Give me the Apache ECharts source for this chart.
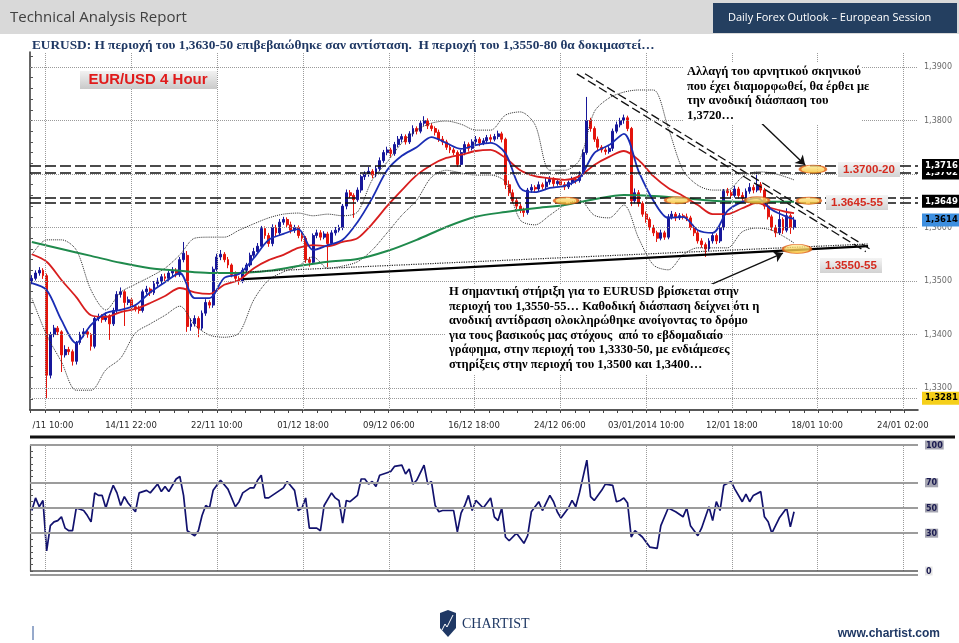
<!DOCTYPE html>
<html><head><meta charset="utf-8">
<script src="https://cdn.jsdelivr.net/npm/echarts@6/dist/echarts.min.js"></script>
<style>html,body{margin:0;padding:0;background:#fff}#c{width:959px;height:643px}</style>
</head><body><div id="c"></div>
<script>
// EUR/USD 4h candles, prices in pips above 1.0000 (3614 = 1.3614)
const opens = [3500,3505,3515,3520,3510,3324,3400,3412,3405,3362,
3372,3368,3350,3385,3400,3405,3400,3378,3430,3433,
3428,3435,3420,3445,3475,3480,3460,3465,3452,3448,
3445,3480,3485,3478,3495,3500,3508,3505,3515,3520,
3512,3540,3548,3415,3420,3430,3412,3440,3460,3455,
3522,3545,3550,3540,3530,3512,3505,3500,3520,3530,
3548,3555,3565,3598,3585,3570,3600,3590,3610,3615,
3605,3595,3600,3585,3580,3540,3535,3585,3590,3582,
3588,3570,3590,3595,3600,3640,3665,3660,3652,3670,
3695,3700,3705,3698,3710,3725,3740,3745,3738,3755,
3765,3770,3760,3775,3785,3780,3795,3800,3790,3785,
3778,3765,3760,3750,3745,3740,3718,3740,3755,3748,
3760,3765,3758,3762,3768,3765,3770,3775,3765,3680,
3665,3650,3640,3632,3628,3670,3675,3672,3680,3676,
3685,3690,3682,3686,3680,3676,3684,3690,3688,3700,
3740,3800,3785,3765,3750,3745,3742,3748,3780,3792,
3800,3805,3785,3650,3665,3645,3625,3615,3600,3590,
3580,3590,3582,3620,3625,3618,3622,3620,3618,3600,
3590,3575,3568,3560,3575,3585,3575,3600,3668,3665,
3660,3672,3660,3655,3668,3675,3670,3680,3670,3640,
3620,3600,3590,3615,3595,3622,3600];
const highs = [3511,3520,3526,3524,3514,3405,3418,3416,3408,3380,
3377,3372,3388,3405,3412,3409,3403,3434,3439,3438,
3441,3438,3450,3481,3488,3483,3471,3469,3457,3454,
3484,3491,3488,3500,3506,3513,3514,3520,3526,3524,
3545,3573,3556,3430,3436,3434,3445,3466,3464,3527,
3551,3558,3554,3545,3533,3518,3509,3525,3534,3553,
3562,3571,3603,3602,3590,3606,3605,3616,3620,3619,
3611,3605,3604,3590,3584,3545,3589,3596,3595,3593,
3592,3595,3601,3605,3644,3671,3670,3664,3675,3701,
3705,3713,3709,3715,3731,3745,3751,3749,3760,3771,
3775,3774,3780,3791,3789,3800,3808,3804,3795,3789,
3783,3771,3764,3755,3749,3744,3745,3761,3759,3765,
3771,3769,3767,3773,3774,3775,3781,3779,3768,3688,
3671,3655,3644,3637,3674,3681,3679,3686,3684,3693,
3696,3694,3691,3690,3685,3688,3695,3694,3705,3746,
3844,3805,3789,3770,3754,3750,3752,3785,3798,3805,
3811,3809,3788,3673,3670,3649,3630,3619,3605,3594,
3596,3594,3625,3631,3629,3627,3626,3626,3622,3605,
3594,3580,3572,3580,3591,3589,3605,3672,3674,3670,
3678,3676,3666,3673,3683,3680,3702,3685,3674,3645,
3624,3605,3633,3619,3636,3626,3620];
const lows = [3494,3501,3510,3504,3281,3318,3395,3399,3330,3357,
3362,3342,3344,3381,3395,3394,3370,3374,3425,3422,
3424,3390,3416,3440,3469,3416,3455,3446,3443,3439,
3441,3475,3472,3474,3490,3494,3500,3501,3509,3507,
3508,3535,3405,3407,3415,3395,3408,3435,3449,3450,
3518,3539,3535,3524,3507,3499,3493,3496,3515,3526,
3543,3551,3560,3579,3564,3565,3584,3586,3605,3601,
3589,3590,3580,3574,3534,3527,3531,3580,3576,3578,
3526,3566,3585,3591,3595,3634,3655,3618,3648,3665,
3689,3695,3692,3694,3705,3721,3735,3732,3734,3750,
3759,3755,3756,3770,3774,3776,3790,3784,3780,3772,
3760,3754,3745,3739,3735,3713,3714,3735,3742,3744,
3755,3752,3754,3757,3759,3761,3765,3759,3672,3659,
3645,3634,3627,3620,3624,3665,3666,3668,3671,3670,
3680,3676,3678,3675,3670,3672,3679,3682,3684,3695,
3736,3779,3760,3744,3740,3736,3738,3743,3776,3787,
3794,3780,3640,3645,3639,3620,3609,3595,3584,3573,
3576,3577,3578,3615,3612,3614,3615,3612,3595,3584,
3570,3562,3545,3556,3570,3569,3571,3595,3659,3655,
3656,3654,3650,3651,3663,3664,3666,3665,3634,3615,
3594,3582,3586,3588,3591,3588,3596];
const closes = [3505,3515,3520,3510,3324,3400,3412,3405,3362,3372,
3368,3350,3385,3400,3405,3400,3378,3430,3433,3428,
3435,3420,3445,3475,3480,3460,3465,3452,3448,3445,
3480,3485,3478,3495,3500,3508,3505,3515,3520,3512,
3540,3552,3415,3420,3430,3412,3440,3460,3455,3522,
3545,3550,3540,3530,3512,3505,3500,3520,3530,3548,
3555,3565,3598,3585,3570,3600,3590,3610,3615,3605,
3595,3600,3585,3580,3540,3535,3585,3590,3582,3588,
3570,3590,3595,3600,3640,3665,3660,3652,3670,3695,
3700,3705,3698,3710,3725,3740,3745,3738,3755,3765,
3770,3760,3775,3785,3780,3795,3800,3790,3785,3778,
3765,3760,3750,3745,3740,3718,3740,3755,3748,3760,
3765,3758,3762,3768,3765,3770,3775,3765,3680,3665,
3650,3640,3632,3628,3670,3675,3672,3680,3676,3685,
3690,3682,3686,3680,3676,3684,3690,3688,3700,3740,
3800,3785,3765,3750,3745,3742,3748,3780,3792,3800,
3805,3785,3650,3665,3645,3625,3615,3600,3590,3580,
3590,3582,3620,3625,3618,3622,3620,3618,3600,3590,
3575,3568,3560,3575,3585,3575,3600,3668,3665,3660,
3672,3660,3655,3668,3675,3670,3680,3670,3640,3620,
3600,3590,3615,3595,3622,3600,3614];

// indicator readings (bar index -> pips)
const maIdx = [0,4,8,12,16,20,24,28,32,36,40,44,48,52,56,60,64,68,72,76,80,84,88,92,96,100,104,108,112,116,120,124,128,132,136,140,144,148,152,156,160,164,168,172,176,180,184,188,192,196,200,204,206];
const maFast = [3496,3483,3427,3384,3418,3440,3446,3455,3479,3498,3515,3468,3468,3506,3513,3543,3577,3588,3597,3558,3567,3577,3610,3655,3707,3734,3750,3769,3758,3747,3754,3758,3739,3674,3666,3674,3678,3692,3739,3754,3775,3705,3650,3618,3620,3595,3590,3631,3648,3655,3633,3620,3616];
const maMid = [3550,3536,3502,3470,3436,3433,3442,3448,3459,3472,3487,3479,3476,3493,3502,3524,3539,3549,3562,3567,3565,3573,3580,3607,3640,3670,3698,3717,3730,3736,3743,3745,3730,3707,3696,3692,3689,3696,3717,3732,3743,3726,3696,3674,3659,3642,3625,3625,3636,3646,3636,3629,3627];
const bbUpper = [3549,3577,3577,3558,3483,3446,3479,3494,3508,3524,3549,3580,3582,3582,3595,3607,3618,3625,3627,3622,3625,3622,3629,3689,3722,3758,3782,3795,3799,3793,3782,3782,3810,3816,3792,3707,3707,3726,3816,3842,3853,3857,3857,3786,3707,3679,3670,3670,3694,3704,3702,3694,3689];
const bbLower = [3468,3399,3349,3296,3296,3334,3356,3403,3420,3436,3453,3418,3399,3395,3403,3465,3502,3517,3528,3545,3524,3528,3536,3558,3590,3623,3651,3694,3707,3702,3698,3698,3685,3614,3605,3623,3642,3651,3623,3618,3642,3580,3530,3521,3549,3562,3562,3562,3592,3599,3595,3580,3571];
const maSlowIdx = [0,8,16,24,32,40,48,56,64,72,80,88,96,104,112,120,128,136,144,152,160,168,176,184,192,200,206];
const maSlow = [3573,3560,3547,3534,3524,3519,3515,3515,3519,3528,3536,3541,3556,3577,3601,3620,3629,3636,3642,3653,3661,3659,3655,3650,3648,3648,3648];

// RSI readings [bar index, value]
const rsi = [[0,48],[1,58],[2,51],[3,56],[4,16],[5,36],[6,39],[7,40],[8,43],[9,34],[10,32],[11,32],[12,50],[14,48],[15,44],[16,39],[17,62],[18,60],[19,60],[20,50],[21,60],[22,68],[23,62],[24,52],[25,59],[26,54],[28,47],[29,62],[31,64],[32,62],[34,69],[35,63],[36,67],[37,63],[39,73],[40,75],[41,60],[42,32],[44,28],[45,32],[46,44],[47,52],[48,50],[49,64],[51,72],[53,65],[55,51],[56,55],[57,62],[59,66],[60,66],[61,72],[62,76],[63,58],[64,58],[67,64],[68,66],[69,71],[71,64],[72,48],[73,50],[74,58],[75,34],[77,34],[78,32],[79,52],[81,62],[82,58],[83,56],[84,38],[85,56],[86,55],[88,60],[89,73],[90,73],[91,69],[92,71],[93,67],[94,76],[95,77],[97,79],[98,83],[100,84],[101,77],[102,81],[103,69],[104,72],[106,84],[107,69],[108,71],[109,52],[110,47],[111,48],[114,48],[115,31],[116,46],[117,52],[118,60],[119,48],[120,56],[122,50],[124,58],[125,43],[126,40],[127,50],[128,27],[129,24],[131,30],[132,26],[133,22],[134,28],[135,47],[137,55],[138,48],[140,60],[141,55],[142,47],[143,42],[145,50],[146,56],[147,51],[148,62],[150,88],[151,59],[152,56],[154,64],[155,69],[157,68],[158,55],[159,56],[160,58],[161,54],[162,27],[163,32],[165,27],[167,19],[169,18],[170,36],[172,50],[174,47],[176,43],[177,50],[178,36],[180,28],[181,34],[183,51],[184,40],[185,55],[186,48],[187,68],[189,71],[190,65],[192,55],[193,61],[194,55],[195,60],[197,63],[198,43],[199,39],[200,30],[202,42],[204,50],[205,35],[206,47]];

// axis ticks
const timeTickPos = [4.05,27.3,50.5,73.8,97.0,120.0,143.2,166.5,189.7,212.7,235.9];
const timeTickLabels = ['/11 10:00','14/11 22:00','22/11 10:00','01/12 18:00','09/12 06:00','16/12 18:00','24/12 06:00','03/01/2014 10:00','12/01 18:00','18/01 10:00','24/01 02:00'];
const priceTicks = [1.33,1.34,1.35,1.36,1.37,1.38,1.39];
const rsiTicks = [0,30,50,70,100];

// chart annotations (bar index, price)
const levelLines = [1.3716,1.3702,1.3655,1.3646];
const priceTags = [[1.3702,'#000','#fff'],[1.3716,'#000','#fff'],[1.3649,'#000','#fff'],[1.3614,'#3d8fe0','#000'],[1.3281,'#f5cf1a','#000']];
const supportLine = [[57.6,1.35037],[226.5,1.35654]];
const dottedLine = [[57.6,1.35168],[226.5,1.35692]];
const downLineA = [[150.0,1.38873],[227.6,1.35574]];
const downLineB = [[147.8,1.38871],[225.9,1.35550]];
const arrowTop = [[195.4,1.38103],[209.5,1.37168]];
const arrowBottom = [[180.6,1.34832],[203.5,1.35523]];
const ellipses = [[144.9,1.3650,24,7],[174.9,1.3651,24,7],[196.5,1.3651,24,7],[210.5,1.3650,24,7],[211.6,1.3709,26,8],[207.3,1.3560,28,9]];

const N = 240;
const P = v => 1 + v / 10000;
const slots = Array.from({length: N}, (_, i) => String(i));
const candleData = opens.map((o, i) => [P(o), P(closes[i]), P(lows[i]), P(highs[i])]);
const pairs = (idx, vals) => idx.map((k, j) => [k, P(vals[j])]);
const minorX = []; for (let v = 4.05 - 3.87; v <= N; v += 3.87) minorX.push(v);
const minorY = []; for (let v = 1.326; v <= 1.3925; v += 0.002) minorY.push(+v.toFixed(4));
const minorR = []; for (let v = 0; v <= 100; v += 5) minorR.push(v);
const fmtP = v => v.toFixed(4).replace('.', ',');

const SERIF = '"Liberation Serif", "DejaVu Serif", serif';
const SANS = '"Liberation Sans", Arial, sans-serif';

function lineSeries(name, data, color, width, type, z) {
  return {name, type: 'line', xAxisIndex: 0, yAxisIndex: 0, data, symbol: 'none', smooth: 0.3,
    silent: true, z, lineStyle: {color, width, type}};
}
function mlSeries(xi, yi, z, ml) {
  return {type: 'scatter', xAxisIndex: xi, yAxisIndex: yi, data: [], z, silent: true,
    markLine: Object.assign({silent: true, precision: 6, symbol: ['none', 'none'], animation: false, label: {show: false}}, ml)};
}
const seg = pts => [{coord: pts[0]}, {coord: pts[1]}];

const grad = (a, b) => new echarts.graphic.LinearGradient(0, 0, 0, 1, [{offset: 0, color: a}, {offset: 1, color: b}]);
function txt(x, y, text, font, fill, align) {
  return {type: 'text', x, y, z: 102, silent: true, style: {text, font, fill, textAlign: align || 'left', align: align || 'left', textVerticalAlign: 'middle', verticalAlign: 'middle'}};
}
function rect(x, y, w, h, fill, z) {
  return {type: 'rect', z: z || 101, silent: true, shape: {x, y, width: w, height: h}, style: {fill}};
}

const topNote = ['Αλλαγή του αρνητικού σκηνικού', 'που έχει διαμορφωθεί, θα έρθει με', 'την ανοδική διάσπαση του', '1,3720…'];
const bottomNote = ['Η σημαντική στήριξη για το EURUSD βρίσκεται στην',
  'περιοχή του 1,3550-55… Καθοδική διάσπαση δείχνει ότι η',
  'ανοδική αντίδραση ολοκληρώθηκε ανοίγοντας το δρόμο',
  'για τους βασικούς μας στόχους  από το εβδομαδιαίο',
  'γράφημα, στην περιοχή του 1,3330-50, με ενδιάμεσες',
  'στηρίξεις στην περιοχή του 1,3500 και 1,3400…'];

const graphic = [
  rect(0, 0, 959, 34, '#d9d9d9', 100),
  txt(10, 18, 'Technical Analysis Report', '15px "Open Sans", sans-serif', '#404040'),
  rect(713, 3, 244, 30, '#243f60'),
  txt(728, 18, 'Daily Forex Outlook – European Session', '11px "Open Sans", sans-serif', '#ffffff'),
  txt(32, 46, 'EURUSD: Η περιοχή του 1,3630-50 επιβεβαιώθηκε σαν αντίσταση.  Η περιοχή του 1,3550-80 θα δοκιμαστεί…', 'bold 13.3px ' + SERIF, '#1f3864'),
  // EUR/USD label
  rect(80, 71, 137, 18, grad('#f2f2f2', '#c9c9c9')),
  txt(148, 80, 'EUR/USD 4 Hour', 'bold 15px ' + SANS, '#e01b1b', 'center'),
  // note backgrounds
  rect(683, 62, 178, 62, '#ffffff'),
  rect(445, 284, 268, 90, '#ffffff'),
  // level labels
  rect(838, 162, 62, 15, grad('#f4f4f4', '#d2d2d2')),
  txt(869, 170, '1.3700-20', 'bold 11.5px ' + SANS, '#d42a1e', 'center'),
  rect(826, 195, 62, 15, grad('#f4f4f4', '#d2d2d2')),
  txt(857, 203, '1.3645-55', 'bold 11.5px ' + SANS, '#d42a1e', 'center'),
  rect(820, 258, 62, 15, grad('#f4f4f4', '#d2d2d2')),
  txt(851, 266, '1.3550-55', 'bold 11.5px ' + SANS, '#d42a1e', 'center'),
  // separators
  {type: 'line', z: 101, silent: true, shape: {x1: 30, y1: 437, x2: 955, y2: 437}, style: {stroke: '#111', lineWidth: 3}},
  {type: 'line', z: 101, silent: true, shape: {x1: 30, y1: 575, x2: 918, y2: 575}, style: {stroke: '#777', lineWidth: 1.5}},
  // footer
  {type: 'line', z: 101, silent: true, shape: {x1: 33, y1: 626, x2: 33, y2: 640}, style: {stroke: '#2f5597', lineWidth: 1}},
  {type: 'polygon', z: 101, silent: true, shape: {points: [[440, 613], [448, 610], [456, 613], [456, 628], [448, 637], [440, 628]]}, style: {fill: '#1f3864'}},
  {type: 'polyline', z: 102, silent: true, shape: {points: [[442, 630], [445, 624], [447, 627], [453, 615]]}, style: {stroke: '#fff', lineWidth: 1, fill: null}},
  txt(462, 624, 'CHARTIST', '14px ' + SERIF, '#1f3864'),
  txt(940, 634, 'www.chartist.com', 'bold 12px "Liberation Sans Narrow", ' + SANS, '#1f3864', 'right')
];
topNote.forEach((t, k) => graphic.push(txt(687, 72 + k * 14.5, t, 'bold 12.5px ' + SERIF, '#000')));
bottomNote.forEach((t, k) => graphic.push(txt(449, 292 + k * 14.5, t, 'bold 12.5px ' + SERIF, '#000')));

const tagLabel = (text, bg, fg) => ({show: true, position: 'end', distance: 4, formatter: text, backgroundColor: bg, color: fg,
  padding: [2, 3, 2, 3], fontSize: 8.5, fontWeight: 'bold', fontFamily: '"DejaVu Sans", sans-serif'});

const option = {
  animation: false,
  backgroundColor: '#ffffff',
  grid: [
    {left: 30, right: 41, top: 52, height: 358},
    {left: 30, right: 41, top: 445, height: 126}
  ],
  xAxis: [
    {type: 'category', gridIndex: 0, data: slots, boundaryGap: true, show: false},
    {type: 'value', gridIndex: 0, min: 0, max: N, position: 'bottom',
      axisLine: {show: true, onZero: false, lineStyle: {color: '#222', width: 1.5}},
      axisTick: {show: true, customValues: minorX, length: 3, lineStyle: {color: '#444'}},
      axisLabel: {customValues: timeTickPos, margin: 11, fontSize: 8.5, color: '#2a2a2a', fontFamily: '"DejaVu Sans", sans-serif',
        formatter: v => { const k = timeTickPos.findIndex(t => Math.abs(t - v) < 0.01); return k === 0 ? '{f|' + timeTickLabels[0] + '}' : (k >= 0 ? timeTickLabels[k] : ''); },
        rich: {f: {fontSize: 8.5, color: '#2a2a2a', fontFamily: '"DejaVu Sans", sans-serif', padding: [0, 0, 0, 16]}}},
      splitLine: {show: false}},
    {type: 'category', gridIndex: 1, data: slots, boundaryGap: true, show: false},
    {type: 'value', gridIndex: 1, min: 0, max: N, show: false}
  ],
  yAxis: [
    {type: 'value', gridIndex: 0, min: 1.3259, max: 1.3928, position: 'right', scale: true,
      axisLine: {show: true, lineStyle: {color: '#333', width: 1.5}},
      axisTick: {show: true, customValues: minorY, length: 3, lineStyle: {color: '#555'}},
      axisLabel: {customValues: priceTicks, formatter: fmtP, fontSize: 8, color: '#6a6a6a', margin: 6, fontFamily: '"DejaVu Sans", sans-serif'},
      splitLine: {show: false}},
    {type: 'value', gridIndex: 1, min: 0, max: 100, position: 'right',
      axisLine: {show: true, lineStyle: {color: '#444', width: 1.2}},
      axisTick: {show: true, customValues: minorR, length: 3, lineStyle: {color: '#555'}},
      axisLabel: {customValues: rsiTicks, margin: 7, fontSize: 8, fontWeight: 'bold', fontFamily: '"DejaVu Sans", sans-serif',
        formatter: v => v === 0 ? '{z|0}' : '{b|' + v + '}',
        rich: {b: {backgroundColor: '#a4a4b0', color: '#1a1a50', fontSize: 8, fontWeight: 'bold', padding: [1, 1, 0, 1]},
               z: {backgroundColor: '#e4e4e4', color: '#1a1a50', fontSize: 8, fontWeight: 'bold', padding: [1, 1, 0, 1]}}},
      splitLine: {show: false}}
  ],
  graphic,
  series: [
    // gridlines
    mlSeries(1, 0, 1, {lineStyle: {type: 'dotted', color: '#9a9a9a', width: 1},
      data: timeTickPos.map(v => ({xAxis: v})).concat(priceTicks.concat([1.3281]).map(v => ({yAxis: v})))}),
    {type: 'candlestick', xAxisIndex: 0, yAxisIndex: 0, data: candleData, barWidth: 2.4, z: 2, silent: true,
      itemStyle: {color: '#17179a', color0: '#e3140c', borderColor: '#17179a', borderColor0: '#e3140c', borderWidth: 1}},
    lineSeries('bbU', pairs(maIdx, bbUpper), '#2a2a2a', 1, 'dotted', 3),
    lineSeries('bbL', pairs(maIdx, bbLower), '#2a2a2a', 1, 'dotted', 3),
    lineSeries('maSlow', pairs(maSlowIdx, maSlow), '#1f8a4c', 2, 'solid', 3),
    lineSeries('maMid', pairs(maIdx, maMid), '#d81e1e', 1.8, 'solid', 3),
    lineSeries('maFast', pairs(maIdx, maFast), '#1a2db4', 1.8, 'solid', 4),
    // dashed levels
    mlSeries(1, 0, 5, {lineStyle: {type: [11, 4], color: '#111', width: 1.6}, data: levelLines.map(v => ({yAxis: v}))}),
    // price tags
    mlSeries(1, 0, 6, {lineStyle: {color: 'rgba(0,0,0,0)', width: 1}, data: priceTags.map(t => ({yAxis: t[0], label: tagLabel(fmtP(t[0]), t[1], t[2])}))}),
    // trend lines
    mlSeries(1, 0, 5, {lineStyle: {type: 'solid', color: '#000', width: 2.2}, data: [seg(supportLine)]}),
    mlSeries(1, 0, 5, {lineStyle: {type: 'dotted', color: '#222', width: 1.2}, data: [seg(dottedLine)]}),
    mlSeries(1, 0, 5, {lineStyle: {type: [9, 4], color: '#111', width: 1.3}, data: [seg(downLineA), seg(downLineB)]}),
    mlSeries(1, 0, 7, {symbol: ['none', 'arrow'], symbolSize: 9, lineStyle: {type: 'solid', color: '#111', width: 1.4}, data: [seg(arrowTop), seg(arrowBottom)]}),
    // ellipses
    {type: 'scatter', xAxisIndex: 1, yAxisIndex: 0, z: 8, silent: true,
      data: ellipses.map(e => ({value: [e[0], e[1]], symbolSize: [e[2], e[3]]})),
      symbol: 'path://M0,10 A20,10 0 1,1 40,10 A20,10 0 1,1 0,10 Z',
      itemStyle: {color: grad('#fff0a0', '#f5b820'), borderColor: '#e0601a', borderWidth: 1.5}},
    // RSI panel
    mlSeries(3, 1, 1, {lineStyle: {type: 'dotted', color: '#9a9a9a', width: 1}, data: timeTickPos.map(v => ({xAxis: v}))}),
    mlSeries(3, 1, 1, {lineStyle: {type: 'solid', color: '#9c9c9c', width: 1.8}, data: [30, 50, 70, 100].map(v => ({yAxis: v}))}),
    mlSeries(3, 1, 1, {lineStyle: {type: 'solid', color: '#555', width: 1.5}, data: [{yAxis: 0}]}),
    {type: 'line', xAxisIndex: 2, yAxisIndex: 1, data: rsi, symbol: 'none', silent: true, z: 3,
      lineStyle: {color: '#12126e', width: 1.7}}
  ]
};
const chart = echarts.init(document.getElementById('c'));
chart.setOption(option);
</script></body></html>
